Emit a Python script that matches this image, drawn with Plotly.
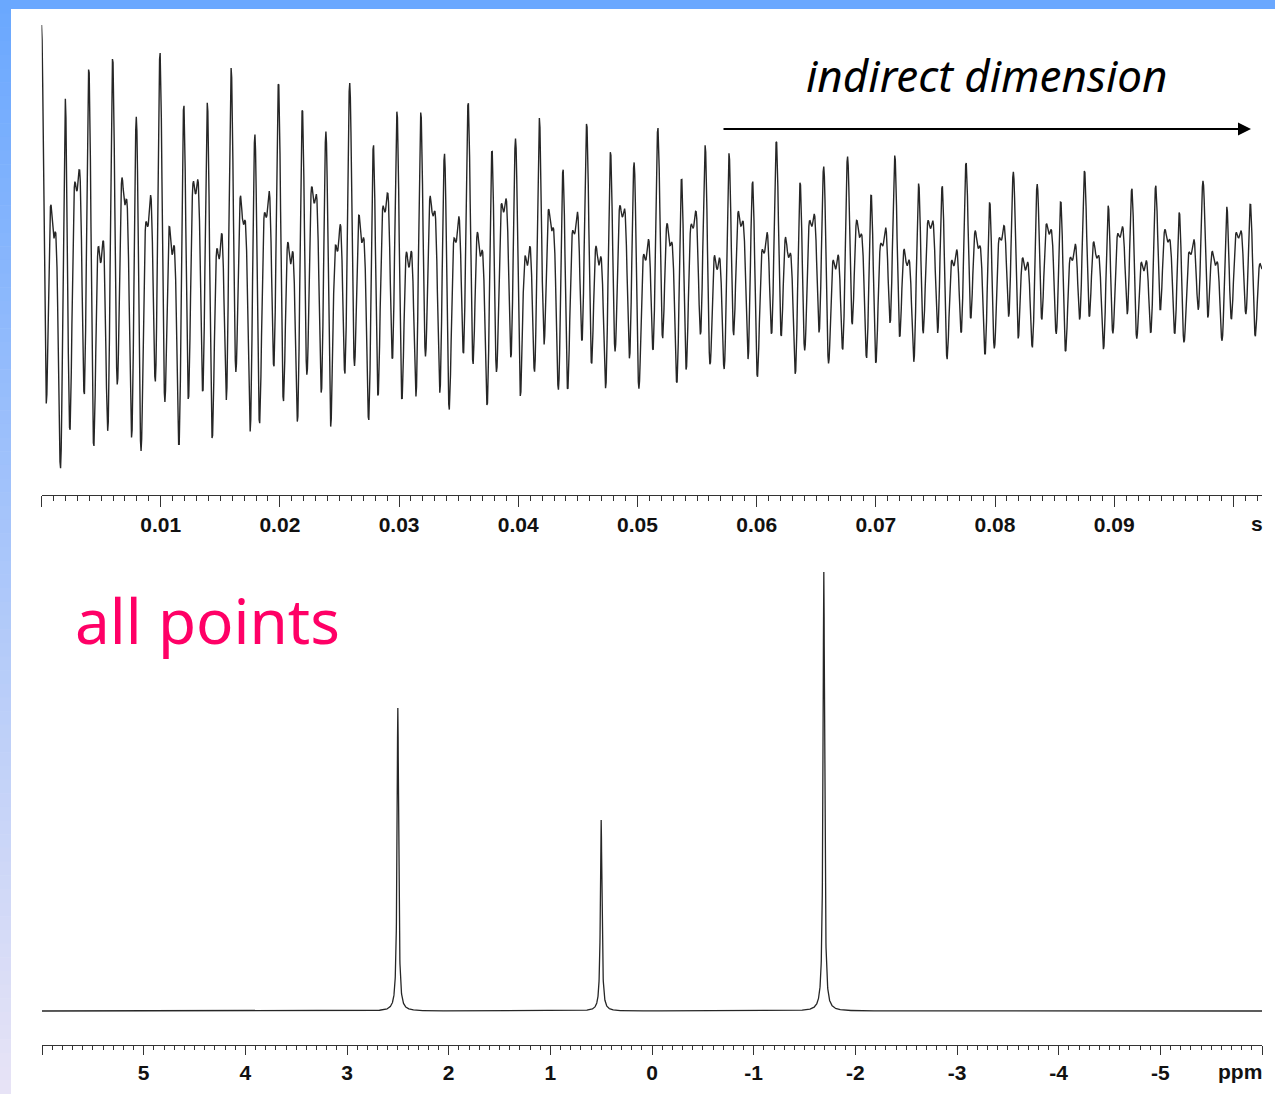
import numpy as np
import plotly.graph_objects as go

# ---------------- data ----------------
# resonances of the 1D spectrum
peak_ppm = [2.50, 0.50, -1.69]          # chemical shift of each line (ppm)
peak_height = [0.69, 0.435, 1.00]       # relative peak heights in the spectrum
peak_fwhm_ppm = [0.018, 0.018, 0.018]   # displayed line widths (ppm)

# time-domain (indirect dimension) signal of the same three lines
fid_amp = [0.64, 0.32, 1.00]            # relative starting amplitudes
fid_decay = [10.5, 8.5, 11.0]           # decay rates (1/s)
spect_freq_hz_per_ppm = 600.0           # spectrometer frequency (Hz per ppm)
carrier_ppm = -0.014
acq_time_s = 0.1024
n_points = 2048

time_ticks = [0.00, 0.01, 0.02, 0.03, 0.04, 0.05, 0.06, 0.07, 0.08, 0.09, 0.10]
time_tick_text = ["", "0.01", "0.02", "0.03", "0.04", "0.05", "0.06", "0.07", "0.08", "0.09", ""]
ppm_ticks = [6, 5, 4, 3, 2, 1, 0, -1, -2, -3, -4, -5, -6]
ppm_tick_text = ["", "5", "4", "3", "2", "1", "0", "-1", "-2", "-3", "-4", "-5", ""]

# ---------------- derived series ----------------
t = np.linspace(0.0, acq_time_s, n_points)
fid = np.zeros_like(t)
for p, a, r in zip(peak_ppm, fid_amp, fid_decay):
    f = (p - carrier_ppm) * spect_freq_hz_per_ppm
    fid += a * np.cos(2 * np.pi * f * t) * np.exp(-r * t)

ppm = np.linspace(6.0, -6.0, 12001)
spec = np.zeros_like(ppm)
for p, h, w in zip(peak_ppm, peak_height, peak_fwhm_ppm):
    g = w / 2.0
    spec += h / (1.0 + ((ppm - p) / g) ** 2)

# ---------------- layout helpers ----------------
W, H = 1275, 1094
def px(x):
    return x / W
def py(y):
    return 1 - y / H

line_col = "#262626"
axis_col = "#333333"
tick_font = dict(family="Liberation Sans, Arial, sans-serif", size=21, color="#111111", weight="bold")

fig = go.Figure()
fig.add_trace(go.Scatter(x=t, y=fid, mode="lines", line=dict(color=line_col, width=1.4),
                         xaxis="x", yaxis="y", hoverinfo="skip", showlegend=False))
fig.add_trace(go.Scatter(x=ppm, y=spec, mode="lines", line=dict(color=line_col, width=1.3),
                         xaxis="x2", yaxis="y2", hoverinfo="skip", showlegend=False))

# pixel scales
fid_center_px = 268.0
fid_px_per_unit = (fid_center_px - 25.0) / sum(fid_amp)
top_dom = (15.0, 495.0)
spec_base_px = 1011.0
spec_px_per_unit = spec_base_px - 572.0
bot_dom = (555.0, 1045.0)

common_axis = dict(showgrid=False, zeroline=False, showline=True, linecolor=axis_col, linewidth=1.3,
                   ticks="outside", tickcolor=axis_col, tickwidth=1.2, tickfont=tick_font,
                   tickmode="array", fixedrange=True)

fig.update_layout(
    width=W, height=H, margin=dict(l=0, r=0, t=0, b=0),
    paper_bgcolor="white", plot_bgcolor="white", showlegend=False,
    xaxis=dict(common_axis, domain=[px(41.5), px(1262)], range=[0, 0.1024],
               tickvals=time_ticks, ticktext=time_tick_text, ticklen=11, anchor="y",
               minor=dict(dtick=0.001, tick0=0, ticklen=5, tickcolor=axis_col, tickwidth=1, ticks="outside")),
    yaxis=dict(domain=[py(top_dom[1]), py(top_dom[0])],
               range=[-(top_dom[1] - fid_center_px) / fid_px_per_unit,
                      (fid_center_px - top_dom[0]) / fid_px_per_unit],
               visible=False, fixedrange=True, anchor="x"),
    xaxis2=dict(common_axis, domain=[px(42), px(1262)], range=[6.0, -6.0],
                tickvals=ppm_ticks, ticktext=ppm_tick_text, ticklen=9, anchor="y2",
                minor=dict(dtick=0.1, tick0=0, ticklen=4, tickcolor=axis_col, tickwidth=1, ticks="outside")),
    yaxis2=dict(domain=[py(bot_dom[1]), py(bot_dom[0])],
                range=[-(bot_dom[1] - spec_base_px) / spec_px_per_unit,
                       (spec_base_px - bot_dom[0]) / spec_px_per_unit],
                visible=False, fixedrange=True, anchor="x2"),
)

# ---------------- slide frame (blue bars) ----------------
shapes = [dict(type="rect", xref="paper", yref="paper", x0=0, x1=1, y0=py(9), y1=1,
               fillcolor="#6aa8ff", line=dict(width=0), layer="above")]
c0 = np.array([106, 168, 255])
c1 = np.array([232, 228, 246])
nseg = 80
for i in range(nseg):
    f = (i + 0.5) / nseg
    c = (c0 + (c1 - c0) * f).astype(int)
    y0 = i * H / nseg
    y1 = (i + 1) * H / nseg + 0.6
    shapes.append(dict(type="rect", xref="paper", yref="paper", x0=0, x1=px(11),
                       y0=py(min(y1, H)), y1=py(y0),
                       fillcolor="rgb(%d,%d,%d)" % tuple(c), line=dict(width=0), layer="above"))
fig.update_layout(shapes=shapes)

# ---------------- annotations ----------------
ann = [
    dict(text="indirect dimension", x=px(987), y=py(75), xref="paper", yref="paper",
         showarrow=False, xanchor="center", yanchor="middle",
         font=dict(family="Noto Sans, sans-serif", size=44, color="black", style="italic")),
    dict(text="", x=px(1251), y=py(129), ax=-(1251 - 722), ay=0, xref="paper", yref="paper",
         axref="pixel", ayref="pixel", showarrow=True, arrowhead=2, arrowsize=1.3,
         arrowwidth=2, arrowcolor="black"),
    dict(text="all points", x=px(73), y=py(620), xref="paper", yref="paper",
         showarrow=False, xanchor="left", yanchor="middle",
         font=dict(family="Noto Sans, sans-serif", size=62, color="#ff0066")),
    dict(text="s", x=px(1257), y=py(523), xref="paper", yref="paper", showarrow=False,
         xanchor="center", yanchor="middle", font=tick_font),
    dict(text="ppm", x=px(1240), y=py(1071), xref="paper", yref="paper", showarrow=False,
         xanchor="center", yanchor="middle", font=tick_font),
]
fig.update_layout(annotations=ann)

fig.write_html("out.html")
